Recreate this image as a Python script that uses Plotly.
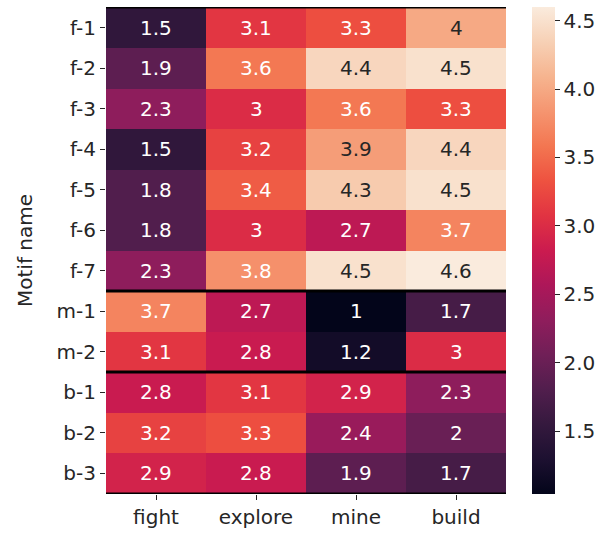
import plotly.graph_objects as go

motifs = ["f-1", "f-2", "f-3", "f-4", "f-5", "f-6", "f-7", "m-1", "m-2", "b-1", "b-2", "b-3"]
tasks = ["fight", "explore", "mine", "build"]
fight = [1.5, 1.9, 2.3, 1.5, 1.8, 1.8, 2.3, 3.7, 3.1, 2.8, 3.2, 2.9]
explore = [3.1, 3.6, 3.0, 3.2, 3.4, 3.0, 3.8, 2.7, 2.8, 3.1, 3.3, 2.8]
mine = [3.3, 4.4, 3.6, 3.9, 4.3, 2.7, 4.5, 1.0, 1.2, 2.9, 2.4, 1.9]
build = [4.0, 4.5, 3.3, 4.4, 4.5, 3.7, 4.6, 1.7, 3.0, 2.3, 2.0, 1.7]
group_breaks = [6.5, 8.5]
cbar_ticks = [1.5, 2.0, 2.5, 3.0, 3.5, 4.0, 4.5]

z = [[fight[i], explore[i], mine[i], build[i]] for i in range(len(motifs))]

rocket = [
    [0.0, "#03051a"],
    [0.07, "#1c1030"],
    [0.143, "#35193e"],
    [0.214, "#511e4d"],
    [0.286, "#701f57"],
    [0.357, "#8f1d5c"],
    [0.429, "#ad1759"],
    [0.5, "#cb1b4f"],
    [0.571, "#e13342"],
    [0.643, "#ee5240"],
    [0.714, "#f37651"],
    [0.786, "#f59570"],
    [0.857, "#f6b48f"],
    [0.93, "#f7d1b6"],
    [1.0, "#faebdd"],
]

FS = 20
TXT = "#262626"

fig = go.Figure(go.Heatmap(
    z=z, x=tasks, y=motifs,
    colorscale=rocket, zmin=1.04, zmax=4.6,
    showscale=True,
    colorbar=dict(
        x=1.065, xanchor="left", xref="paper", xpad=0, ypad=0,
        y=0.5, yanchor="middle", len=1.0, lenmode="fraction",
        thickness=23, outlinewidth=0,
        tickvals=cbar_ticks, ticktext=[f"{t:.1f}" for t in cbar_ticks],
        ticks="outside", ticklen=5, tickwidth=1, tickcolor=TXT,
        tickfont=dict(family="DejaVu Sans", size=FS, color=TXT),
    ),
    hoverinfo="skip",
))

for i, m in enumerate(motifs):
    for j, t in enumerate(tasks):
        v = z[i][j]
        fig.add_annotation(
            x=t, y=m, text=f"{v:.2g}", showarrow=False,
            font=dict(family="DejaVu Sans", size=FS,
                      color=TXT if v >= 3.85 else "white"),
        )

for b in group_breaks:
    fig.add_shape(type="line", xref="paper", x0=0, x1=1, yref="y", y0=b, y1=b,
                  line=dict(color="black", width=3))
for b in [-0.5, len(motifs) - 0.5]:
    fig.add_shape(type="line", xref="paper", x0=0, x1=1, yref="y", y0=b, y1=b,
                  line=dict(color="black", width=1.5))

fig.update_layout(
    width=608, height=540,
    margin=dict(l=106, r=102, t=7, b=46, autoexpand=False),
    paper_bgcolor="white", plot_bgcolor="white",
    font=dict(family="DejaVu Sans", size=FS, color=TXT),
    xaxis=dict(ticks="outside", ticklen=5, tickcolor=TXT, showgrid=False,
               zeroline=False, showline=False, automargin=False,
               tickfont=dict(size=FS, color=TXT)),
    yaxis=dict(autorange="reversed", ticks="outside", ticklen=5, tickcolor=TXT,
               showgrid=False, zeroline=False, showline=False, automargin=False,
               title=dict(text="Motif name", font=dict(size=FS, color=TXT), standoff=18),
               tickfont=dict(size=FS, color=TXT)),
)

fig.write_html("out.html", config={"displayModeBar": False},
               post_script="document.body.style.margin='0';document.body.style.overflow='hidden';")
